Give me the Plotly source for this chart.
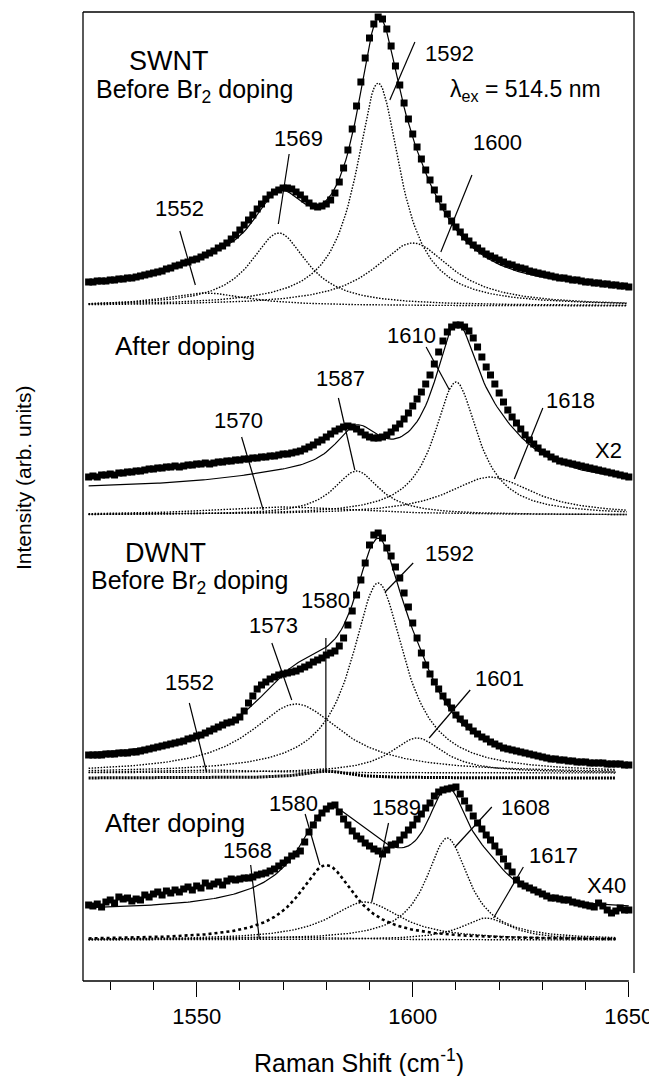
import numpy as np
import plotly.graph_objects as go

# ---------------- data ----------------
# Raman shift grid of the measured points (cm^-1)
SHIFT_START = 1525
SHIFT_STOP = 1650

# measured intensities (arb. units, above each spectrum's own baseline)
SWNT_BEFORE = [24, 24, 25, 25, 25, 26, 26, 27, 27, 28,
               28, 29, 30, 31, 32, 33, 34, 35, 37, 38,
               40, 41, 43, 44, 46, 47, 49, 51, 53, 55,
               58, 60, 63, 67, 71, 76, 81, 86, 91, 97,
               102, 107, 111, 114, 116, 118, 118, 117, 114, 111,
               107, 103, 100, 99, 100, 102, 106, 113, 124, 138,
               156, 177, 200, 224, 248, 268, 282, 289, 287, 277,
               260, 240, 221, 203, 187, 172, 159, 147, 136, 126,
               116, 107, 99, 92, 85, 79, 74, 69, 65, 61,
               58, 55, 52, 50, 48, 46, 44, 42, 41, 39,
               38, 37, 35, 34, 33, 32, 31, 30, 29, 28,
               28, 27, 26, 26, 25, 24, 24, 23, 23, 22,
               22, 21, 21, 20, 20, 19]
SWNT_AFTER = [38, 39, 38, 40, 40, 41, 40, 42, 42, 43,
              43, 44, 44, 45, 46, 46, 47, 47, 48, 48,
              49, 48, 49, 50, 50, 51, 51, 52, 51, 52,
              53, 53, 54, 54, 55, 55, 56, 56, 57, 57,
              58, 58, 59, 59, 60, 61, 61, 62, 63, 64,
              66, 68, 70, 73, 75, 78, 81, 84, 86, 88,
              89, 88, 86, 83, 80, 78, 77, 77, 78, 80,
              83, 87, 91, 96, 102, 109, 116, 123, 131, 140,
              151, 163, 174, 183, 188, 190, 190, 188, 184, 177,
              168, 158, 148, 140, 131, 122, 113, 105, 98, 92,
              86, 80, 75, 71, 67, 63, 61, 58, 56, 54,
              53, 52, 51, 50, 49, 48, 47, 46, 45, 44,
              43, 42, 41, 40, 39, 38]
DWNT_BEFORE = [18, 18, 18, 18, 19, 19, 19, 20, 20, 20,
               21, 21, 22, 23, 24, 25, 26, 27, 28, 29,
               30, 31, 32, 34, 35, 37, 38, 40, 42, 44,
               46, 48, 50, 51, 53, 56, 62, 70, 77, 84,
               88, 91, 94, 96, 98, 99, 100, 101, 102, 104,
               106, 108, 111, 113, 115, 118, 120, 122, 127, 135,
               148, 162, 178, 193, 210, 228, 238, 240, 235, 225,
               217, 206, 195, 180, 166, 150, 135, 120, 108, 99,
               91, 84, 77, 71, 65, 58, 54, 50, 46, 42,
               39, 36, 34, 31, 29, 27, 25, 24, 23, 22,
               21, 20, 19, 18, 17, 16, 15, 14, 14, 13,
               13, 12, 12, 11, 11, 11, 10, 10, 10, 10,
               9, 9, 9, 9, 8, 8]
DWNT_AFTER = [35, 34, 36, 33, 38, 40, 37, 43, 41, 42,
              39, 41, 40, 45, 43, 46, 48, 45, 49, 47,
              50, 48, 51, 53, 50, 54, 52, 57, 54, 56,
              58, 55, 59, 61, 60, 61, 62, 62, 63, 65,
              66, 67, 69, 71, 74, 77, 80, 84, 86, 89,
              98, 108, 115, 122, 127, 131, 134, 135, 128, 121,
              115, 109, 104, 101, 97, 94, 91, 89, 86, 90,
              95, 96, 100, 105, 110, 115, 121, 126, 132, 137,
              144, 148, 150, 151, 152, 153, 146, 139, 132, 124,
              117, 111, 105, 100, 94, 88, 81, 74, 68, 60,
              56, 54, 52, 50, 48, 46, 44, 42, 42, 41,
              40, 40, 38, 37, 36, 35, 34, 33, 37, 34,
              30, 27, 29, 32, 30, 30]

# Lorentzian fit components: centre (cm^-1), FWHM (cm^-1), height
SWNT_BEFORE_CENTER = [1552, 1569, 1592, 1600]
SWNT_BEFORE_FWHM = [24, 16, 12.6, 22]
SWNT_BEFORE_HEIGHT = [13, 73, 223, 63]

SWNT_AFTER_CENTER = [1570, 1587, 1610, 1618]
SWNT_AFTER_FWHM = [40, 13, 12.4, 24]
SWNT_AFTER_HEIGHT = [8, 44, 133, 38]

DWNT_BEFORE_CENTER = [1552, 1573, 1580, 1592, 1601]
DWNT_BEFORE_FWHM = [30, 26, 12, 15, 15]
DWNT_BEFORE_HEIGHT = [3, 69, 7, 190, 35]

DWNT_AFTER_CENTER = [1568, 1580, 1589, 1608, 1617]
DWNT_AFTER_FWHM = [30, 16, 20, 12, 14]
DWNT_AFTER_HEIGHT = [3, 75, 38, 102, 22]

# linear background of the fit (value at 1525 and at 1650)
BG_START = [17.5, 26, 12, 29]
BG_END = [13, 29, 2, 29]

# peak labels
SWNT_BEFORE_LABELS = ["1552", "1569", "1592", "1600"]
SWNT_AFTER_LABELS = ["1570", "1587", "1610", "1618"]
DWNT_BEFORE_LABELS = ["1552", "1573", "1580", "1592", "1601"]
DWNT_AFTER_LABELS = ["1568", "1580", "1589", "1608", "1617"]

X_TICKS = [1550, 1600, 1650]

# ---------------- layout helpers ----------------
OFFSETS = [675, 466, 208, 41]          # vertical stacking offsets
COMP_END = [1649.5, 1649.5, 1647, 1647]  # where the component curves stop
FONT = "Liberation Sans, Arial, Helvetica, sans-serif"

spectra = [SWNT_BEFORE, SWNT_AFTER, DWNT_BEFORE, DWNT_AFTER]
centers = [SWNT_BEFORE_CENTER, SWNT_AFTER_CENTER, DWNT_BEFORE_CENTER, DWNT_AFTER_CENTER]
fwhms = [SWNT_BEFORE_FWHM, SWNT_AFTER_FWHM, DWNT_BEFORE_FWHM, DWNT_AFTER_FWHM]
heights = [SWNT_BEFORE_HEIGHT, SWNT_AFTER_HEIGHT, DWNT_BEFORE_HEIGHT, DWNT_AFTER_HEIGHT]

# special styling of the two 1580 components (thick), one drawn slightly shifted
THICK = {(2, 2): dict(width=3, dash="2px,1px", shift=-5),
         (3, 1): dict(width=2.6, dash="dot", shift=0)}


def lorentz(x, c, w, h):
    return h / (1.0 + ((x - c) / (w / 2.0)) ** 2)


x_data = np.arange(SHIFT_START, SHIFT_STOP + 1)
fig = go.Figure()

for i in range(4):
    off = OFFSETS[i]
    xc = np.arange(SHIFT_START, COMP_END[i] + 1e-9, 0.5)
    # components
    for j, (c, w, h) in enumerate(zip(centers[i], fwhms[i], heights[i])):
        st = THICK.get((i, j))
        if st:
            line = dict(color="black", width=st["width"], dash=st["dash"])
            shift = st["shift"]
        else:
            line = dict(color="black", width=1.4, dash="1.5px,1.5px")
            shift = 0
        fig.add_trace(go.Scatter(x=xc, y=off + shift + lorentz(xc, c, w, h),
                                 mode="lines", line=line, hoverinfo="skip"))
    # measured points
    fig.add_trace(go.Scatter(x=x_data, y=off + np.array(spectra[i]), mode="markers",
                             marker=dict(symbol="square", size=7, color="black",
                                         line=dict(width=0)), hoverinfo="skip"))
    # fit = background + sum of components
    xf = np.arange(SHIFT_START, SHIFT_STOP + 1e-9, 0.5)
    bg = BG_START[i] + (BG_END[i] - BG_START[i]) * (xf - SHIFT_START) / (SHIFT_STOP - SHIFT_START)
    tot = bg + sum(lorentz(xf, c, w, h) for c, w, h in zip(centers[i], fwhms[i], heights[i]))
    fig.add_trace(go.Scatter(x=xf, y=off + tot, mode="lines",
                             line=dict(color="black", width=1.2), hoverinfo="skip"))

# ---------------- text annotations ----------------
ann = []


def txt(x, y, s, size=22, xanchor="center", xref="x", yref="y", angle=0):
    ann.append(dict(x=x, y=y, text=s, xref=xref, yref=yref, showarrow=False,
                    xanchor=xanchor, yanchor="middle", textangle=angle,
                    font=dict(family=FONT, size=size, color="black")))


# label positions (x, y) and leader lines (x0, y0, x1, y1)
label_pos = [
    [(1546.1, 773), (1573.5, 843), (1608.6, 928), (1619.6, 839)],
    [(1559.6, 561), (1583.2, 603), (1599.8, 646), (1636.4, 581)],
    [(1548.4, 299), (1567.7, 356), (1579.7, 381), (1608.6, 428), (1620.0, 303)],
    [(1561.8, 131), (1572.4, 178), (1596.3, 174), (1626.2, 174), (1632.6, 126)],
]
leaders = [
    [(1546.1, 750, 1549.7, 696), (1571.4, 827, 1568.9, 757),
     (1600.5, 939, 1594.7, 881), (1613.7, 806, 1606.5, 729)],
    [(1560.4, 544, 1565.4, 471), (1582.8, 583, 1586.6, 511),
     (1603.1, 634, 1608.5, 591), (1630.1, 573, 1623.5, 502)],
    [(1548.3, 278, 1552.3, 209), (1567.4, 338, 1572.0, 281),
     (1579.9, 343, 1579.9, 209), (1600.1, 418, 1593.6, 389),
     (1613.3, 291, 1603.8, 243)],
    [(1562.5, 116, 1564.5, 42), (1575.1, 167, 1578.5, 116),
     (1594.4, 158, 1590.5, 79), (1618.3, 174, 1609.8, 134),
     (1625.6, 114, 1618.7, 63)],
]
labels = [SWNT_BEFORE_LABELS, SWNT_AFTER_LABELS, DWNT_BEFORE_LABELS, DWNT_AFTER_LABELS]

shapes = []
for i in range(4):
    for (lx, ly), s in zip(label_pos[i], labels[i]):
        txt(lx, ly, s)
    for (x0, y0, x1, y1) in leaders[i]:
        shapes.append(dict(type="line", xref="x", yref="y", x0=x0, y0=y0, x1=x1, y1=y1,
                           line=dict(color="black", width=1.2)))

txt(1543.5, 920, "SWNT", size=27)
txt(1526.3, 890, "Before Br<sub>2</sub> doping", size=25, xanchor="left")
txt(1608.2, 891, "λ<sub>ex</sub> = 514.5 nm", size=23, xanchor="left")
txt(1530.6, 635, "After doping", size=26, xanchor="left")
txt(1645.3, 531, "X2", size=22)
txt(1542.7, 428, "DWNT", size=27)
txt(1525.1, 399, "Before Br<sub>2</sub> doping", size=25, xanchor="left")
txt(1528.4, 158, "After doping", size=26, xanchor="left")
txt(1644.9, 96, "X40", size=22)

# axis titles
txt(0.501, -0.0826, "Raman Shift (cm<sup>-1</sup>)", size=25, xref="paper", yref="paper")
txt(-0.109, 0.519, "Intensity (arb. units)", size=21, xref="paper", yref="paper", angle=-90)

# frame
frame = dict(color="black", width=1.3)
shapes += [
    dict(type="line", xref="paper", yref="paper", x0=0, y0=0, x1=0, y1=1, line=frame),
    dict(type="line", xref="paper", yref="paper", x0=0, y0=1, x1=1, y1=1, line=frame),
    dict(type="line", xref="paper", yref="paper", x0=1, y0=0.0083, x1=1, y1=1, line=frame),
    dict(type="line", xref="x", yref="paper", x0=1523.7, y0=0, x1=1650, y1=0, line=frame),
]

# the page body adds an 8 px margin, so the figure is 8 px smaller on each axis
fig.update_layout(
    width=649, height=1068,
    margin=dict(l=75, r=23, t=4, b=95, autoexpand=False),
    paper_bgcolor="white", plot_bgcolor="white",
    showlegend=False, hovermode=False,
    annotations=ann, shapes=shapes,
    font=dict(family=FONT, color="black"),
    xaxis=dict(range=[1523.7, 1651.2], tickvals=X_TICKS, ticks="outside", ticklen=15,
               tickwidth=1.3, tickcolor="black", showline=False, showgrid=False,
               zeroline=False, automargin=False,
               tickfont=dict(family=FONT, size=22, color="black"),
               ticklabelstandoff=1,
               minor=dict(dtick=10, tick0=1520, ticks="outside", ticklen=8,
                          tickwidth=1.3, tickcolor="black", showgrid=False)),
    yaxis=dict(range=[0, 969], visible=False, fixedrange=True, automargin=False),
)

fig.write_html("out.html")
